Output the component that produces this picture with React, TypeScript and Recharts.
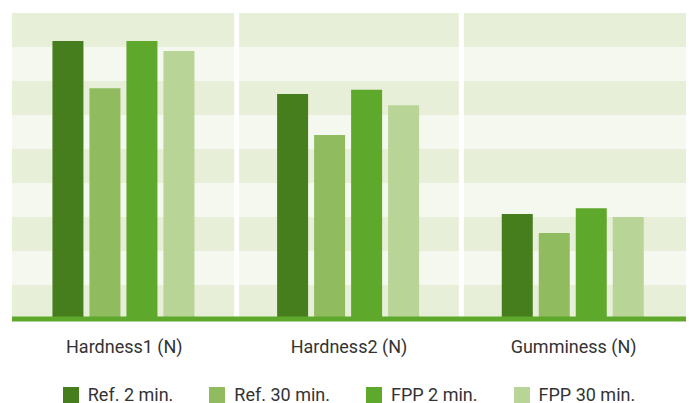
import { BarChart, Bar, XAxis, YAxis, CartesianGrid, Legend } from "recharts";

const categories = ["Hardness1 (N)", "Hardness2 (N)", "Gumminess (N)"];
const ref2 = [81.8, 66.2, 30.9];
const ref30 = [67.9, 54.1, 25.3];
const fpp2 = [81.8, 67.4, 32.6];
const fpp30 = [78.8, 62.9, 30.0];
const yTicks = [0, 10, 20, 30, 40, 50, 60, 70, 80, 90];

const SERIES = [
  { key: "ref2", name: "Ref. 2 min.", color: "#467d1d" },
  { key: "ref30", name: "Ref. 30 min.", color: "#90bb5e" },
  { key: "fpp2", name: "FPP 2 min.", color: "#5ea82c" },
  { key: "fpp30", name: "FPP 30 min.", color: "#b8d496" },
];

const data = categories.map((c, i) => ({
  label: c, ref2: ref2[i], ref30: ref30[i], fpp2: fpp2[i], fpp30: fpp30[i],
}));

const FONT = "Roboto, sans-serif";
const TEXT = "#333";

function LegendBox() {
  return (
    <div style={{ height: 40, paddingTop: 23, boxSizing: "border-box", display: "flex",
      justifyContent: "center", alignItems: "center", gap: 36, fontFamily: FONT,
      fontSize: 18, color: TEXT }}>
      {SERIES.map((s) => (
        <div key={s.key} style={{ display: "flex", alignItems: "center", gap: 9, height: 16 }}>
          <span style={{ width: 16, height: 16, background: s.color, display: "inline-block" }} />
          <span style={{ lineHeight: "16px" }}>{s.name}</span>
        </div>
      ))}
    </div>
  );
}

export default function App() {
  return (
    <div style={{ position: "absolute", left: 0, top: 0, background: "#fff" }}>
      <BarChart width={689} height={403} data={data}
        margin={{ top: 13, right: 3, left: 12, bottom: 0 }}
        barCategoryGap="18%" barGap={6}>
        <CartesianGrid
          horizontal={() => null}
          horizontalFill={["#e8efd8", "#f5f8ee"]}
          fillOpacity={1}
          stroke="#ffffff" strokeWidth={5}
          verticalCoordinatesGenerator={({ offset }: any) => [
            offset.left + offset.width / 3,
            offset.left + (2 * offset.width) / 3,
          ]}
        />
        <YAxis hide domain={[0, 90]} ticks={yTicks} />
        <XAxis dataKey="label" tickLine={false} height={44} tickMargin={15}
          axisLine={{ stroke: "#5ea82c", strokeWidth: 5 }}
          tick={{ fill: TEXT, fontSize: 18, fontFamily: FONT }} />
        <Legend verticalAlign="bottom" content={() => <LegendBox />} />
        {SERIES.map((s) => (
          <Bar key={s.key} dataKey={s.key} name={s.name} fill={s.color} isAnimationActive={false} />
        ))}
      </BarChart>
    </div>
  );
}
